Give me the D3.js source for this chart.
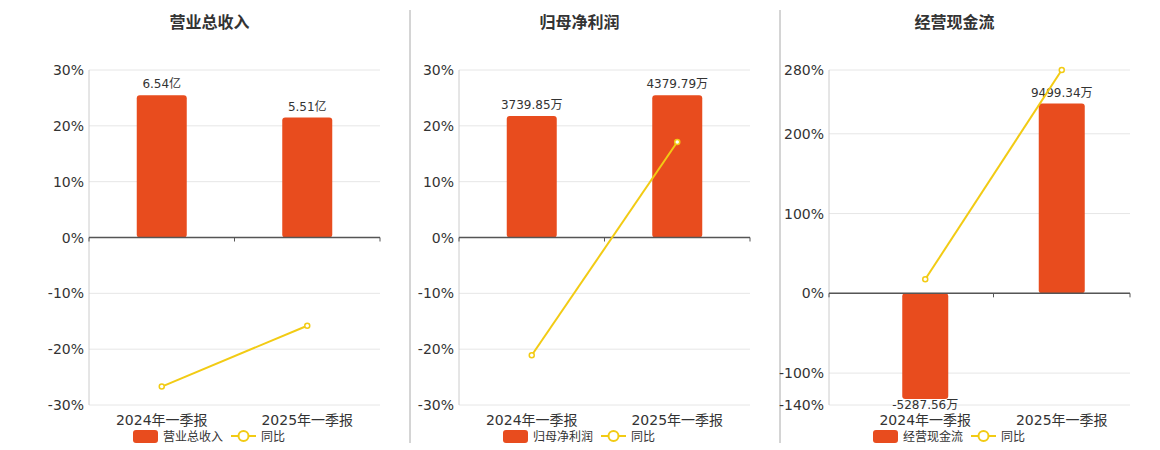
<!DOCTYPE html>
<meta charset="utf-8">
<style>
    body { margin: 0; background: #fff; font-family: "DejaVu Sans", "Noto Sans CJK SC", sans-serif; }
    text { fill: #333; }
    .grid line { stroke: #e6e6e6; }
</style>
<body>
<script src="https://cdn.jsdelivr.net/npm/d3@7"></script>
<script>

var categories = ["2024年一季报", "2025年一季报"];

var titles = ["营业总收入", "归母净利润", "经营现金流"];
var barValues = [[6.54, 5.51], [3739.85, 4379.79], [-5287.56, 9499.34]];
var barLabels = [["6.54亿", "5.51亿"], ["3739.85万", "4379.79万"], ["-5287.56万", "9499.34万"]];
var yoyValues = [[-26.7, -15.8], [-21.1, 17.1], [17.6, 280]];
var yTicks = [[30, 20, 10, 0, -10, -20, -30], [30, 20, 10, 0, -10, -20, -30], [280, 200, 100, 0, -100, -140]];
var yDomains = [[-30, 30], [-30, 30], [-140, 280]];
// bar tops in axis units (bars use their own hidden scale)
var barTopAt = [25.5, 25.5, 238];

var barColor = "#e84c1e", lineColor = "#f2cb14";

var svg = d3.select("body").append("svg").attr("width", 1160).attr("height", 450);

var axisLeft = [89, 459, 829];
var axisRight = [380, 750, 1130];
var bandLeft = [89, 459, 857];
var barW = [50, 50, 46];

[410, 780].forEach(function (x) {
    svg.append("line").attr("x1", x).attr("x2", x).attr("y1", 10).attr("y2", 443)
        .attr("stroke", "#aaa");
});

titles.forEach(function (t, i) {
    var g = svg.append("g");
    var x = d3.scaleBand().domain(categories).range([bandLeft[i], axisRight[i]]);
    var cx = function (j) { return x(categories[j]) + x.bandwidth() / 2; };
    var y = d3.scaleLinear().domain(yDomains[i]).range([405, 70]);
    var maxAbs = d3.max(barValues[i], function (v) { return Math.abs(v); });
    var yb = d3.scaleLinear().domain([0, maxAbs]).range([y(0), y(barTopAt[i])]);
    var barH = function (d) { return Math.abs(yb(Math.abs(d)) - y(0)); };

    g.append("text").attr("x", (axisLeft[i] + axisRight[i]) / 2 - 25).attr("y", 28)
        .attr("text-anchor", "middle").style("font-size", "16px").style("font-weight", "bold")
        .style("font-family", "Noto Sans CJK SC").text(t);

    var grid = g.append("g").attr("class", "grid");
    grid.selectAll("line").data(yTicks[i]).enter().append("line")
        .attr("x1", axisLeft[i]).attr("x2", axisRight[i])
        .attr("y1", function (d) { return y(d); }).attr("y2", function (d) { return y(d); });

    g.append("line").attr("x1", axisLeft[i]).attr("x2", axisLeft[i]).attr("y1", 70).attr("y2", 405).attr("stroke", "#ccc");

    g.selectAll("text.tick").data(yTicks[i]).enter().append("text")
        .attr("x", axisLeft[i] - 5).attr("y", function (d) { return y(d) + 5; })
        .attr("text-anchor", "end").style("font-size", "14px").text(function (d) { return d + "%"; });

    g.selectAll("rect").data(barValues[i]).enter().append("rect")
        .attr("x", function (d, j) { return cx(j) - barW[i] / 2; })
        .attr("width", barW[i])
        .attr("y", function (d) { return d >= 0 ? yb(d) : y(0); })
        .attr("height", barH)
        .attr("rx", 3).attr("fill", barColor);

    g.selectAll("text.bl").data(barValues[i]).enter().append("text")
        .attr("x", function (d, j) { return cx(j); })
        .attr("y", function (d) { return d >= 0 ? yb(d) - 7 : y(0) + barH(d) + 10; })
        .attr("text-anchor", "middle").style("font-size", "12px")
        .text(function (d, j) { return barLabels[i][j]; });

    g.append("line").attr("x1", axisLeft[i]).attr("x2", axisRight[i]).attr("y1", y(0)).attr("y2", y(0))
        .attr("stroke", "#555").attr("stroke-width", 1.5);
    [axisLeft[i], x(categories[1]), axisRight[i]].forEach(function (tx) {
        g.append("line").attr("x1", tx).attr("x2", tx).attr("y1", y(0)).attr("y2", y(0) + 4).attr("stroke", "#555");
    });

    var line = d3.line().x(function (d, j) { return cx(j); }).y(function (d) { return y(d); });
    g.append("path").datum(yoyValues[i]).attr("d", line).attr("fill", "none")
        .attr("stroke", lineColor).attr("stroke-width", 2);
    g.selectAll("circle").data(yoyValues[i]).enter().append("circle")
        .attr("cx", function (d, j) { return cx(j); })
        .attr("cy", function (d) { return y(d); }).attr("r", 2.5)
        .attr("fill", "#fff").attr("stroke", lineColor).attr("stroke-width", 1.5);

    g.selectAll("text.cat").data(categories).enter().append("text")
        .attr("x", function (d, j) { return cx(j); }).attr("y", 425)
        .attr("text-anchor", "middle").style("font-size", "14px").text(function (d) { return d; });

    var lx = axisLeft[i] + 44;
    g.append("rect").attr("x", lx).attr("y", 430).attr("width", 25).attr("height", 13).attr("rx", 3).attr("fill", barColor);
    g.append("text").attr("x", lx + 30).attr("y", 441).style("font-size", "12px").text(t);
    var lx2 = lx + 30 + t.length * 12 + 8;
    g.append("line").attr("x1", lx2).attr("x2", lx2 + 25).attr("y1", 436).attr("y2", 436).attr("stroke", lineColor).attr("stroke-width", 2);
    g.append("circle").attr("cx", lx2 + 12.5).attr("cy", 436).attr("r", 5).attr("fill", "#fff").attr("stroke", lineColor).attr("stroke-width", 2);
    g.append("text").attr("x", lx2 + 30).attr("y", 441).style("font-size", "12px").text("同比");
});
</script>
</body>
